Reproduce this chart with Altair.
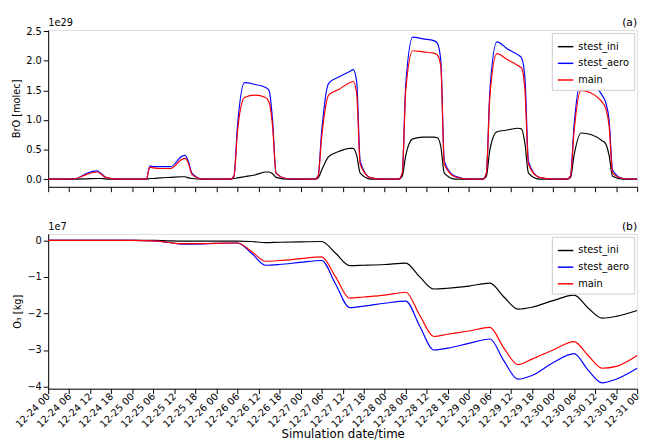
import pandas as pd
import altair as alt

days = ["2000-12-24", "2000-12-25", "2000-12-26", "2000-12-27", "2000-12-28", "2000-12-29", "2000-12-30"]
end_day = "2000-12-31"
series = ["stest_ini", "stest_aero", "main"]
colors = ["black", "blue", "red"]

# BrO [1e29 molec], sampled at these hours of each day
bro_hours = [0, 4, 5, 6, 8, 11, 14, 15, 16, 17, 20]
bro_ini = [
    [0, 0, 0, 0, 0, 0.005, 0.01, 0.01, 0.005, 0, 0],
    [0, 0, 0.01, 0.01, 0.02, 0.03, 0.04, 0.04, 0.02, 0.01, 0],
    [0, 0, 0.01, 0.02, 0.04, 0.07, 0.12, 0.12, 0.09, 0.03, 0],
    [0, 0, 0.02, 0.15, 0.38, 0.47, 0.52, 0.52, 0.4, 0.1, 0],
    [0, 0, 0.05, 0.4, 0.68, 0.71, 0.71, 0.7, 0.55, 0.1, 0],
    [0, 0, 0.05, 0.5, 0.8, 0.83, 0.86, 0.85, 0.6, 0.1, 0],
    [0, 0, 0.03, 0.4, 0.78, 0.75, 0.65, 0.6, 0.4, 0.05, 0],
]
bro_aero = [
    [0, 0, 0, 0, 0.01, 0.1, 0.14, 0.1, 0.05, 0.02, 0],
    [0, 0, 0.22, 0.21, 0.21, 0.21, 0.38, 0.4, 0.3, 0.1, 0],
    [0, 0, 0.05, 0.9, 1.63, 1.6, 1.55, 1.5, 1.0, 0.1, 0.01],
    [0, 0, 0.05, 0.8, 1.62, 1.73, 1.82, 1.85, 1.65, 0.3, 0.02],
    [0, 0, 0.1, 1.6, 2.4, 2.37, 2.34, 2.3, 2.0, 0.3, 0.05],
    [0, 0, 0.1, 1.5, 2.32, 2.2, 2.1, 2.05, 1.7, 0.3, 0.03],
    [0, 0, 0.05, 0.9, 1.65, 1.6, 1.42, 1.3, 1.0, 0.15, 0.01],
]
bro_main = [
    [0, 0, 0, 0, 0.01, 0.08, 0.12, 0.09, 0.04, 0.02, 0],
    [0, 0, 0.2, 0.19, 0.18, 0.18, 0.33, 0.35, 0.27, 0.08, 0],
    [0, 0, 0.05, 0.8, 1.38, 1.42, 1.38, 1.3, 0.9, 0.1, 0.01],
    [0, 0, 0.05, 0.7, 1.42, 1.52, 1.63, 1.65, 1.45, 0.25, 0.02],
    [0, 0, 0.1, 1.5, 2.17, 2.15, 2.13, 2.1, 1.9, 0.25, 0.04],
    [0, 0, 0.1, 1.4, 2.12, 2.02, 1.92, 1.88, 1.5, 0.25, 0.03],
    [0, 0, 0.05, 0.8, 1.5, 1.45, 1.3, 1.2, 0.9, 0.1, 0.01],
]

# O3 [1e7 kg]
o3_hours = [0, 6, 10, 14, 18]
o3_ini = [
    [0, 0, 0, 0, 0],
    [0, 0, -0.01, -0.02, -0.02],
    [-0.02, -0.02, -0.03, -0.06, -0.05],
    [-0.04, -0.03, -0.35, -0.69, -0.68],
    [-0.66, -0.62, -1.0, -1.33, -1.31],
    [-1.25, -1.17, -1.55, -1.88, -1.83],
    [-1.65, -1.5, -1.85, -2.13, -2.08],
]
o3_aero = [
    [0, 0, 0, 0, 0],
    [0, -0.01, -0.05, -0.1, -0.1],
    [-0.08, -0.07, -0.35, -0.68, -0.66],
    [-0.6, -0.55, -1.2, -1.84, -1.8],
    [-1.72, -1.66, -2.35, -3.0, -2.95],
    [-2.82, -2.7, -3.3, -3.8, -3.7],
    [-3.35, -3.1, -3.55, -3.9, -3.8],
]
o3_main = [
    [0, 0, 0, 0, 0],
    [0, -0.01, -0.05, -0.09, -0.09],
    [-0.08, -0.07, -0.3, -0.57, -0.55],
    [-0.5, -0.45, -1.0, -1.58, -1.55],
    [-1.5, -1.42, -2.05, -2.63, -2.57],
    [-2.48, -2.38, -2.95, -3.4, -3.25],
    [-3.0, -2.77, -3.15, -3.5, -3.45],
]
bro_end = [0, 0, 0]
o3_end = [-1.92, -3.5, -3.15]


def build(hours, blocks, ends):
    rows = []
    for name, block, last in zip(series, blocks, ends):
        for day, vals in zip(days, block):
            for h, v in zip(hours, vals):
                rows.append({"t": f"{day}T{h:02d}:00:00", "v": v, "run": name})
        rows.append({"t": f"{end_day}T00:00:00", "v": last, "run": name})
    return pd.DataFrame(rows)


bro = build(bro_hours, [bro_ini, bro_aero, bro_main], bro_end)
o3 = build(o3_hours, [o3_ini, o3_aero, o3_main], o3_end)

ticks = [alt.DateTime(year=2000, month=12, date=24 + i // 4, hours=(i % 4) * 6, utc=True) for i in range(29)]
xscale = alt.Scale(type="utc", domain=[alt.DateTime(year=2000, month=12, date=24, utc=True),
                                       alt.DateTime(year=2000, month=12, date=31, utc=True)])
color = alt.Color("run:N", sort=series, scale=alt.Scale(domain=series, range=colors),
                  legend=alt.Legend(title=None, orient="top-right", fillColor="white", strokeColor="#ccc",
                                    padding=5, offset=3, symbolType="stroke", symbolStrokeWidth=1.5,
                                    labelFontSize=10, symbolSize=250, rowPadding=3))

font = "DejaVu Sans"


def panel(df, h, ytitle, yscale, yticks, exp, tag, show_labels):
    xaxis = alt.Axis(values=ticks, labelExpr="timeFormat(datum.value, '%m-%d %H')" if show_labels else "''",
                     labelAngle=-45, labelAlign="right", labelBaseline="middle", labelFontSize=10,
                     labelOverlap=False, labelBound=False, labelFlush=False,
                     title="Simulation date/time" if show_labels else None, titleFontSize=12,
                     titleFontWeight="normal", grid=False, titlePadding=0,
                     tickColor="black", domainColor="black", labelColor="black", labelPadding=1)
    lines = alt.Chart(df).mark_line(strokeWidth=1.2, interpolate="monotone").encode(
        x=alt.X("t:T", scale=xscale, axis=xaxis),
        y=alt.Y("v:Q", scale=yscale, title=ytitle,
                axis=alt.Axis(values=yticks, grid=False, labelFontSize=10, titleFontSize=10,
                              titleFontWeight="normal", tickColor="black", domainColor="black",
                              labelColor="black", format=".1f" if tag == "(a)" else "d")),
        color=color,
    )
    expo = alt.Chart().mark_text(align="left", fontSize=10, font=font).encode(
        x=alt.value(0), y=alt.value(-7), text=alt.value(exp))
    lab = alt.Chart().mark_text(align="right", fontSize=11, font=font).encode(
        x=alt.value(601), y=alt.value(-7), text=alt.value(tag))
    return alt.layer(lines, expo, lab).properties(width=601, height=h)


top = panel(bro, 160, "BrO [molec]", alt.Scale(domain=[-0.13, 2.52], nice=False),
            [0, 0.5, 1.0, 1.5, 2.0, 2.5], "1e29", "(a)", False)
bottom = panel(o3, 158, "O₃ [kg]", alt.Scale(domain=[-4.06, 0.18], nice=False),
               [-4, -3, -2, -1, 0], "1e7", "(b)", True)

chart = alt.vconcat(top, bottom, spacing=23).resolve_scale(color="independent").configure_view(
    stroke="black", strokeWidth=1).configure(font=font).properties(
    padding={"left": 3, "top": 4, "right": 2, "bottom": 0})

chart.save("out.html", embed_options={"renderer": "svg", "actions": False})
